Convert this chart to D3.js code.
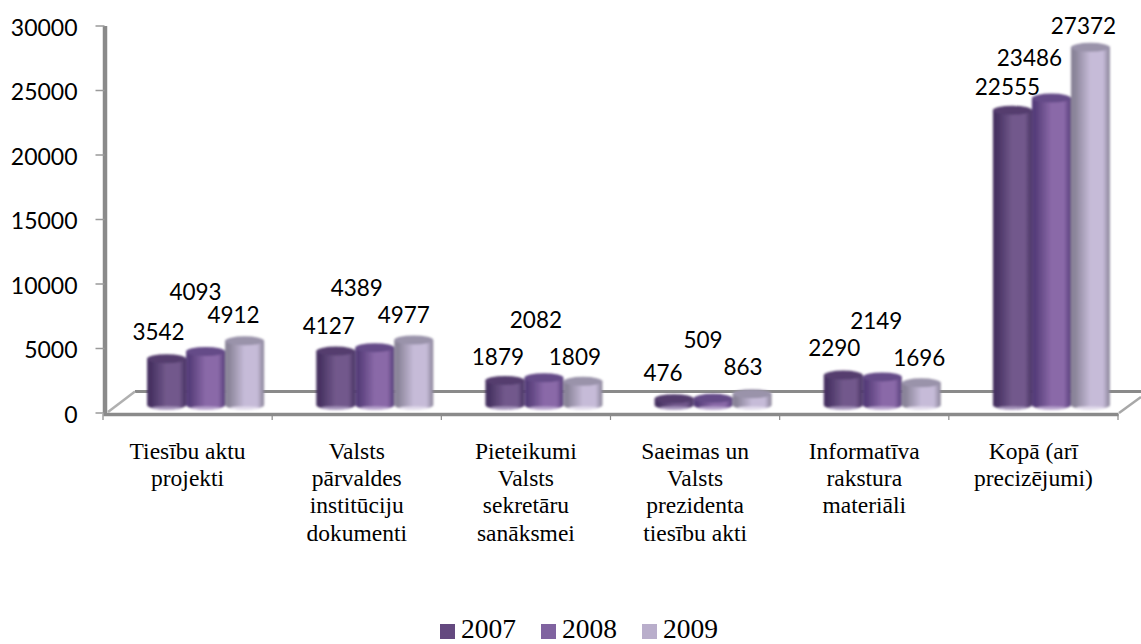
<!DOCTYPE html>
<html><head><meta charset="utf-8">
<script src="https://cdnjs.cloudflare.com/ajax/libs/d3/7.8.5/d3.min.js"></script>
<style>html,body{margin:0;padding:0;background:#fff;overflow:hidden}svg{display:block}</style>
</head><body><svg id="c" width="1141" height="644"></svg>
<script>
const categories = [
  ["Tiesību aktu","projekti"],
  ["Valsts","pārvaldes","institūciju","dokumenti"],
  ["Pieteikumi","Valsts","sekretāru","sanāksmei"],
  ["Saeimas un","Valsts","prezidenta","tiesību akti"],
  ["Informatīva","rakstura","materiāli"],
  ["Kopā (arī","precizējumi)"]
];
const years = ["2007","2008","2009"];
const v2007 = [3542,4127,1879,476,2290,22555];
const v2008 = [4093,4389,2082,509,2149,23486];
const v2009 = [4912,4977,1809,863,1696,27372];
const series = [v2007,v2008,v2009];
const yTicks = [0,5000,10000,15000,20000,25000,30000];

// label placement (not data): offset from bar-top centre
const labelDx = [[-8,-10,-11],[-7,-18,-10],[-7,-8,-8],[-11,-10,-9],[-9,-6,-2],[-5,-22,-7]];
const labelDy = [[-27,-60,-26],[-26,-60,-25],[-24,-58,-25],[-26,-59,-27],[-28,-56,-25],[-24,-41,-22]];

const palette = [
  {edge:"#473262",mid:"#72598c",top:"#543d6e",foot:"#a796bd"},
  {edge:"#573e7a",mid:"#8a69a8",top:"#654b88",foot:"#b7a3cd"},
  {edge:"#8a8499",mid:"#c6bbd8",top:"#9a93aa",foot:"#e2dcec"}
];
const swatch = ["#64497f","#8063a0","#b9aecb"];
const gray = "#8a8a8a";

const svg = d3.select("#c");
const defs = svg.append("defs");
palette.forEach((p,i)=>{
  const g = defs.append("linearGradient").attr("id","g"+i);
  [[0,p.edge],[.1,p.edge],[.5,p.mid],[.82,p.mid],[1,p.edge]].forEach(s=>
    g.append("stop").attr("offset",s[0]).attr("stop-color",s[1]));
});
defs.append("filter").attr("id","soft").append("feGaussianBlur").attr("stdDeviation",0.8);

const x = d3.scaleBand().domain(d3.range(categories.length)).range([103,1118]);
const s = d3.scaleBand().domain(d3.range(3)).range([-58.5,58.5]);
const depthX = 18;
const y = d3.scaleLinear().domain([0,30000]).range([412.5,25.5]);
const yBar = d3.scaleLinear().domain([0,30000]).range([405,13]);

// floor
const wall = svg.append("g").attr("fill","none").attr("stroke",gray);
wall.append("line").attr("x1",135).attr("x2",1141).attr("y1",391.5).attr("y2",391.5).attr("stroke-width",3);
wall.append("path").attr("d","M108,412L135,391.5").attr("stroke-width",2.5).attr("stroke","#b0b0b0");
wall.append("path").attr("d","M1119,413L1141,397").attr("stroke-width",2.5).attr("stroke","#a8a8a8");

// axes
const ax = svg.append("g").attr("transform","translate(104.5,0)")
  .call(d3.axisLeft(y).tickValues(yTicks).tickFormat(d=>d).tickSize(9).tickSizeOuter(0).tickPadding(18));
ax.select(".domain").attr("stroke",gray).attr("stroke-width",4.5);
ax.selectAll(".tick line").attr("stroke","#9a9a9a").attr("stroke-width",1.5);
ax.selectAll("text").attr("font-family","Lato, sans-serif").attr("font-size",23).attr("fill","#000").attr("dy","0.42em");

const bx = svg.append("g").attr("transform","translate(0,414)")
  .call(d3.axisBottom(x).tickValues([]).tickSizeOuter(0));
bx.select(".domain").attr("stroke",gray).attr("stroke-width",3.5);
svg.append("g").selectAll("line").data(d3.range(7)).join("line")
  .attr("x1",d=>103+d*x.step()).attr("x2",d=>103+d*x.step())
  .attr("y1",414).attr("y2",420).attr("stroke",gray).attr("stroke-width",1.2);

// cylinders
const rx = 19.5, ry = 4.5;
const bars = svg.append("g").attr("filter","url(#soft)");
categories.forEach((c,ci)=>{
  series.forEach((vals,si)=>{
    const cx = x(ci)+x.bandwidth()/2+depthX+s(si)+s.bandwidth()/2;
    const top = yBar(vals[ci]), base = yBar(0);
    const g = bars.append("g");
    g.append("path")
      .attr("d",`M${cx-rx},${top}L${cx-rx},${base}A${rx},${ry} 0 0 0 ${cx+rx},${base}L${cx+rx},${top}Z`)
      .attr("fill",`url(#g${si})`);
    g.append("ellipse").attr("cx",cx).attr("cy",base+3).attr("rx",rx-5).attr("ry",1.6)
      .attr("fill",palette[si].foot);
    g.append("ellipse").attr("cx",cx).attr("cy",top).attr("rx",rx).attr("ry",ry)
      .attr("fill",palette[si].top);
  });
});

// value labels
const labels = svg.append("g").attr("font-family","Lato, sans-serif").attr("font-size",22.5).attr("fill","#000")
  .attr("text-anchor","middle").attr("dominant-baseline","central");
categories.forEach((c,ci)=>{
  series.forEach((vals,si)=>{
    const cx = x(ci)+x.bandwidth()/2+depthX+s(si)+s.bandwidth()/2;
    labels.append("text").attr("x",cx+labelDx[ci][si]).attr("y",yBar(vals[ci])+labelDy[ci][si]).text(vals[ci]);
  });
});

// category labels
const cat = svg.append("g").attr("font-family","'Liberation Serif', serif").attr("font-size",23.5)
  .attr("fill","#000").attr("text-anchor","middle");
categories.forEach((lines,ci)=>{
  const t = cat.append("text").attr("x",x(ci)+x.bandwidth()/2).attr("y",459);
  lines.forEach((l,i)=>t.append("tspan").attr("x",x(ci)+x.bandwidth()/2).attr("dy",i?27.2:0).text(l));
});

// legend
const legX = d3.scaleLinear().domain([0,2]).range([440,642]);
const leg = svg.append("g");
years.forEach((yr,i)=>{
  leg.append("rect").attr("x",legX(i)).attr("y",624).attr("width",15).attr("height",15).attr("fill",swatch[i]);
  leg.append("text").attr("x",legX(i)+21).attr("y",638).attr("font-family","'Liberation Serif', serif")
    .attr("font-size",27.5).attr("fill","#000").text(yr);
});
</script></body></html>
